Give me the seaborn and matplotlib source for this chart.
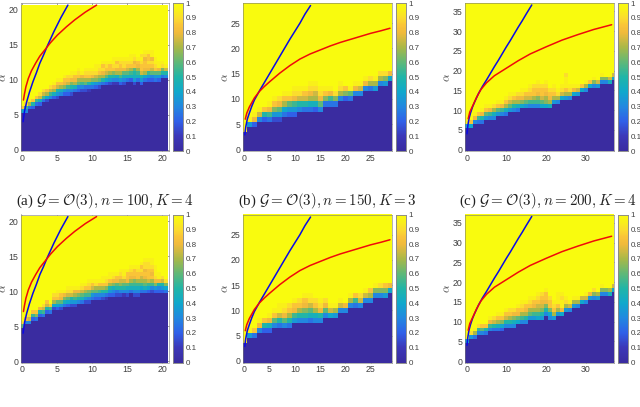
import numpy as np
import matplotlib
matplotlib.use("Agg")
import matplotlib.pyplot as plt
import seaborn as sns
from matplotlib.colors import LinearSegmentedColormap

sns.set_style("white")
plt.rcParams["font.family"] = ["Liberation Sans", "DejaVu Sans"]
plt.rcParams["mathtext.fontset"] = "cm"

# parula-like colours
parula = LinearSegmentedColormap.from_list("parula", [
    (0.00, "#3a2ca0"), (0.10, "#3c38b8"), (0.20, "#3060e8"), (0.30, "#2288e0"),
    (0.40, "#10a8cc"), (0.50, "#20b5a8"), (0.60, "#5fb878"), (0.70, "#a8b848"),
    (0.80, "#f0ba3c"), (0.85, "#fac438"), (0.90, "#fbdc2e"), (0.95, "#f9ef1a"), (1.00, "#f9fb0e")])

# curves, shared by both rows
a_blue_x = [0.1, 0.3, 0.6, 1, 1.5, 2, 2.5, 3, 3.5, 4, 4.5, 5, 5.5, 6, 6.5]
a_blue_y = [4, 5.5, 6.8, 8.2, 9.7, 11, 12.4, 13.5, 14.7, 15.8, 16.9, 17.9, 18.9, 19.8, 20.7]
a_red_x = [0.15, 0.3, 0.5, 0.85, 1.3, 1.9, 2.5, 3.3, 4, 5, 6.3, 7.5, 9, 10.6]
a_red_y = [7.1, 8, 9, 10.2, 11.3, 12.4, 13.4, 14.4, 15.3, 16.4, 17.6, 18.6, 19.7, 20.7]
b_blue_x = [0.1, 0.3, 0.6, 1, 1.5, 2, 3, 4, 5, 6, 7, 8, 9, 10, 11, 12, 13.1]
b_blue_y = [2.9, 4.5, 6, 7.2, 8.6, 9.8, 11.6, 13.3, 15, 16.7, 18.4, 20.1, 21.8, 23.4, 25, 26.8, 28.5]
b_red_x = [0.2, 0.5, 1, 2, 3, 4, 5, 7, 9, 11, 13, 15, 17, 19, 21, 23, 25, 27, 28.8]
b_red_y = [6, 7.2, 8.4, 10.2, 11.5, 12.5, 13.4, 15.1, 16.6, 17.9, 18.9, 19.7, 20.5, 21.2, 21.8, 22.4, 23, 23.5, 24]
c_blue_x = [0.1, 0.3, 0.6, 1, 1.5, 2, 3, 4, 5, 6, 7, 8, 9, 10, 11, 12, 13, 14, 15, 16.4]
c_blue_y = [4, 6, 7.8, 9.3, 10.8, 12, 14.2, 16, 17.6, 19.3, 21, 22.6, 24.3, 26, 27.6, 29.3, 31, 32.6, 34.3, 36.6]
c_red_x = [0.4, 0.8, 1.5, 2.5, 3.6, 5, 7, 10, 13, 16, 20, 24, 28, 32, 36.5]
c_red_y = [7.8, 9.5, 11, 13.2, 15.2, 16.9, 18.7, 20.6, 22.5, 24.2, 26, 27.7, 29.1, 30.4, 31.6]

# dark rows per column, then the cell values above them (1 further up)
a_floor = [11, 11, 12, 12, 13, 13, 14, 14, 15, 15, 15, 16, 16, 16, 16, 17, 17, 17, 17, 17, 18, 18,
           18, 19, 19, 19, 19, 19, 19, 19, 20, 20, 19, 20, 19, 20, 20, 20, 20, 20, 21, 21]
a_band = [[.4, .85], [.3, .55, .9], [.25, .7, .95], [.2, .5, .85], [.25, .55, .85], [.2, .45, .75, .9],
          [.25, .55, .75, .9], [.15, .4, .7, .85], [.3, .55, .75, .9], [.2, .45, .7, .85, .95],
          [.15, .35, .5, .75, .85, .95], [.3, .45, .7, .85, .95], [.2, .35, .65, .8, .85, .95],
          [.2, .3, .55, .75, .85, .9], [.15, .3, .5, .65, .8, .9, .95], [.25, .45, .7, .8, .85, .95],
          [.2, .3, .6, .7, .85, .9, .95], [.15, .3, .55, .7, .8, .95], [.15, .25, .6, .7, .85, .9, .95],
          [.1, .25, .5, .7, .85, .9, .95], [.25, .4, .65, .8, .9, .95], [.2, .35, .65, .75, .9, .95, .95],
          [.15, .3, .6, .7, .85, .9, .95], [.25, .5, .7, .8, .9, .85, .95], [.2, .4, .6, .75, .85, .9, .95],
          [.15, .35, .5, .7, .85, .85, .95], [.1, .3, .5, .65, .85, .9, .95, .95], [.1, .3, .45, .7, .8, .9, .85, .95],
          [.2, .35, .55, .7, .8, .85, .9, .95], [.15, .3, .45, .6, .8, .9, .9, .95], [.25, .45, .6, .75, .85, .9, .95],
          [.2, .45, .55, .7, .85, .9, .95, .95], [.15, .35, .45, .5, .6, .85, .8, .9, .95], [.25, .45, .55, .7, .8, .85, .95],
          [.2, .35, .5, .75, .85, .85, .9, .95, .9], [.25, .4, .7, .8, .85, .85, .8, .9, .95], [.2, .35, .55, .8, .85, .9, .85, .85, .95],
          [.2, .3, .6, .75, .85, .9, .8, .95, .95], [.25, .35, .6, .85, .9, .95, .95], [.2, .35, .6, .8, .95, .95],
          [.25, .5, .65, .9, .95], [.3, .5, .75, .95]]

b_floor = [4, 5, 5, 6, 6, 6, 6, 6, 7, 7, 7, 8, 8, 8, 8, 8, 9, 9, 9, 10, 10, 10, 11, 11, 12, 12, 12, 13, 13, 14]
b_band = [[.95], [.35, .95], [.2, .8, .95], [.3, .75, .95], [.2, .5, .85], [.25, .55, .8, .95],
          [.15, .35, .65, .85, .95], [.15, .35, .6, .8, .9], [.25, .4, .7, .85, .95], [.2, .35, .6, .85, .95],
          [.2, .35, .55, .8, .9, .95], [.3, .5, .75, .9, .95], [.25, .5, .75, .85, .95], [.25, .45, .7, .8, .9, .95],
          [.2, .45, .7, .75, .9, .95], [.3, .6, .8, .9, .95], [.25, .65, .85, .95], [.25, .55, .8, .95],
          [.25, .65, .9], [.3, .7, .9, .95], [.2, .65, .85], [.25, .6, .95], [.3, .8, .95], [.3, .75, .95],
          [.3, .8, .95], [.25, .7, .9], [.35, .7, .95], [.3, .7, .9], [.35, .65, .9], [.4, .8]]

c_floor = [6, 6, 7, 7, 7, 8, 8, 8, 9, 9, 9, 10, 10, 10, 11, 11, 11, 11, 11, 11, 11, 11, 12, 12, 13, 13,
           13, 14, 14, 15, 15, 16, 16, 16, 17, 17, 17, 18]
c_band = [[.35, .95], [.4, .85], [.3, .8, .95], [.25, .55, .85], [.25, .5, .8, .95], [.35, .6, .85, .95],
          [.3, .55, .8, .95], [.3, .45, .7, .9], [.35, .6, .85, .95], [.3, .55, .8, .95], [.25, .45, .7, .85, .95],
          [.35, .6, .75, .9, .95], [.3, .5, .7, .85, .95], [.25, .45, .7, .8, .9], [.4, .65, .8, .9, .95],
          [.35, .6, .75, .85, .95], [.3, .55, .75, .85, .9, .95], [.3, .55, .7, .85, .85, .9], [.3, .55, .65, .8, .85, .9, .95],
          [.4, .6, .75, .85, .85, .9], [.4, .65, .7, .8, .85, .9, .95], [.45, .7, .8, .85, .9], [.35, .7, .85, .9, .95],
          [.3, .7, .9, .95], [.4, .75, .9, .95], [.35, .7, .85, .95, .95, .95, .9], [.3, .7, .9, .95], [.4, .8, .95],
          [.35, .75, .95], [.4, .85], [.3, .7, .95], [.4, .85], [.3, .65, .95], [.35, .75], [.3, .65, .95], [.3, .65],
          [.45, .75], [.4, .75]]

d_floor = [10, 11, 11, 12, 12, 13, 13, 14, 14, 15, 15, 15, 16, 16, 16, 16, 17, 17, 17, 17, 18, 18,
           18, 18, 18, 19, 19, 19, 19, 19, 19, 20, 19, 19, 20, 20, 20, 20, 20, 20, 20, 20]
d_band = [[.6, .9], [.3, .8], [.3, .75, .9], [.2, .55, .85], [.25, .65, .85], [.2, .5, .8], [.25, .55, .75, .9],
          [.2, .5, .75, .85], [.25, .55, .85], [.15, .4, .7, .85, .9], [.2, .4, .6, .85, .9, .95],
          [.15, .35, .6, .8, .85, .95], [.25, .45, .65, .8, .95], [.2, .4, .6, .75, .9, .95],
          [.15, .35, .5, .75, .9, .95], [.15, .35, .55, .7, .8, .95], [.3, .5, .65, .8, .95],
          [.25, .45, .6, .75, .9, .95], [.15, .35, .55, .7, .85, .95], [.15, .3, .55, .65, .85, .9, .95],
          [.25, .35, .6, .75, .85, .95], [.2, .3, .6, .7, .9, .95], [.2, .3, .55, .7, .85, .95],
          [.15, .3, .5, .7, .85, .95, .95], [.1, .25, .5, .65, .85, .9, .95], [.2, .35, .5, .7, .85, .95, .95],
          [.2, .3, .45, .65, .8, .9, .95], [.15, .25, .5, .6, .8, .85, .95], [.15, .3, .5, .65, .75, .85, .9, .95],
          [.1, .3, .5, .6, .75, .9, .95, .95], [.15, .3, .45, .6, .8, .85, .85, .95], [.25, .45, .55, .7, .8, .85, .9, .95],
          [.15, .3, .45, .55, .65, .8, .85, .85, .95], [.15, .3, .45, .55, .7, .85, .85, .9, .95],
          [.25, .4, .55, .7, .75, .85, .9, .85, .95], [.25, .45, .6, .7, .8, .85, .8, .9, .9, .95],
          [.2, .4, .55, .75, .85, .85, .85, .9, .9, .95], [.15, .3, .55, .7, .85, .8, .85, .9, .95, .95],
          [.2, .35, .65, .8, .9, .95, .95, .95], [.2, .3, .5, .8, .95, .95], [.2, .35, .5, .75, .9], [.25, .4, .65, .9]]

e_floor = [4, 5, 5, 6, 6, 6, 7, 7, 7, 7, 8, 8, 8, 8, 8, 8, 9, 9, 9, 10, 10, 11, 11, 11, 12, 12, 13, 13, 13, 14]
e_band = [[.95], [.35, .95], [.25, .85], [.3, .8, .95], [.2, .5, .85], [.2, .45, .8, .95], [.3, .6, .85, .95],
          [.25, .5, .75, .95, .95], [.3, .6, .8, .9, .95], [.25, .5, .7, .85, .9], [.35, .55, .8, .85, .95],
          [.3, .5, .7, .85, .9], [.3, .5, .65, .8, .85, .95], [.25, .45, .6, .75, .9, .95], [.3, .45, .7, .85, .9],
          [.3, .5, .8, .9, .95], [.3, .6, .8, .9], [.4, .75, .95], [.35, .7, .95], [.3, .75, .95], [.3, .8], [.3, .7, .95],
          [.25, .55, .85], [.3, .75, .9], [.3, .75, .95], [.3, .7, .85], [.3, .65, .95], [.3, .65, .9], [.35, .65, .85], [.4, .8]]

f_floor = [5, 6, 6, 7, 7, 7, 8, 8, 8, 8, 9, 9, 9, 10, 10, 10, 11, 11, 11, 11, 12, 11, 11, 12, 12, 13, 13,
           14, 14, 15, 15, 16, 16, 16, 17, 17, 17, 18]
f_band = [[.4, .95], [.35, .9], [.25, .7, .95], [.3, .55, .9], [.3, .6, .85], [.25, .5, .85], [.3, .55, .8, .95],
          [.25, .5, .75, .9], [.25, .45, .7, .85, .95], [.2, .4, .65, .85, .95], [.3, .5, .75, .85, .95],
          [.3, .5, .7, .85, .9], [.3, .45, .65, .8, .9], [.4, .6, .8, .85, .95], [.3, .55, .7, .85, .9, .95],
          [.3, .5, .7, .8, .85, .95], [.35, .6, .7, .85, .9, .95], [.35, .55, .7, .8, .85, .95], [.4, .55, .7, .75, .85, .9, .95],
          [.35, .5, .65, .75, .8, .85, .9], [.3, .5, .65, .8, .85, .85, .95], [.3, .4, .65, .85, .85, .9], [.35, .7, .85, .9, .95],
          [.35, .7, .85, .95, .95, .95], [.4, .8, .95, .95, .9, .95], [.35, .7, .9, .95], [.3, .75, .95], [.35, .7, .95],
          [.3, .7, .95], [.4, .75], [.3, .75, .95], [.35, .8], [.3, .65, .9], [.35, .7], [.3, .65, .95], [.3, .65],
          [.45, .7], [.4, .75]]

a_ticks = [0, 5, 10, 15, 20]
b_ticks = [0, 5, 10, 15, 20, 25]
c_ticks = [0, 10, 20, 30]
c_yticks = [0, 5, 10, 15, 20, 25, 30, 35]
cbar_ticks = [0, .1, .2, .3, .4, .5, .6, .7, .8, .9, 1]
cbar_labels = ["0", "0.1", "0.2", "0.3", "0.4", "0.5", "0.6", "0.7", "0.8", "0.9", "1"]

captions = [r"(a) $\mathcal{G}=\mathcal{O}(3), n=100, K=4$",
            r"(b) $\mathcal{G}=\mathcal{O}(3), n=150, K=3$",
            r"(c) $\mathcal{G}=\mathcal{O}(3), n=200, K=4$"]

W, H = 640.0, 407.0
TXT = "#404040"


def box(x0, y0, x1, y1):
    return [x0 / W, 1 - y1 / H, (x1 - x0) / W, (y1 - y0) / H]


def build_grid(floor, band, nrows):
    grid = np.ones((nrows, len(floor)))
    for col, (f, vals) in enumerate(zip(floor, band)):
        grid[:f, col] = 0
        grid[f:f + len(vals), col] = vals
    return grid


def panel(fig, left, right, top, floor, band, step, xlim, ylim, xticks, yticks,
          blue, red, ylabel_x):
    bottom = top + 148
    ax = fig.add_axes(box(left, top, right, bottom))
    cax = fig.add_axes(box(right + 4, top, right + 14, bottom))
    sns.heatmap(build_grid(floor, band, len(floor)), ax=ax, cbar_ax=cax, cmap=parula, vmin=0, vmax=1,
                xticklabels=False, yticklabels=False, linewidths=0, rasterized=True)
    # heatmap cell i is centred on i + 0.5
    cx = lambda v: np.asarray(v) / step + 0.5
    sns.lineplot(x=cx(blue[0]), y=cx(blue[1]), ax=ax, color="#0a0ae6", lw=1.1, sort=False, estimator=None)
    sns.lineplot(x=cx(red[0]), y=cx(red[1]), ax=ax, color="#f00a0a", lw=1.1, sort=False, estimator=None)
    ax.set_xlim(cx(xlim[0]), cx(xlim[1]))
    ax.set_ylim(cx(ylim[0]), cx(ylim[1]))
    ax.set_xticks(cx(xticks))
    ax.set_xticklabels([str(t) for t in xticks])
    ax.set_yticks(cx(yticks))
    ax.set_yticklabels([str(t) for t in yticks], rotation=0)
    ax.tick_params(direction="in", length=2, width=0.4, color="#555555", labelcolor=TXT,
                   labelsize=6.3, top=True, right=True, bottom=True, left=True, pad=2)
    for s in ax.spines.values():
        s.set_visible(True)
        s.set_color("#777777")
        s.set_linewidth(0.4)
    ax.set_xlabel(r"$\beta$", fontsize=8.5, color=TXT, labelpad=4)
    fig.text(ylabel_x / W, 1 - (top + 74) / H, r"$\alpha$", fontsize=8.5, color=TXT,
             rotation=90, ha="center", va="center")
    cax.set_yticks(cbar_ticks)
    cax.set_yticklabels(cbar_labels)
    cax.tick_params(length=0, labelsize=5.8, labelcolor=TXT, pad=2, right=True, left=False)
    for s in cax.spines.values():
        s.set_visible(True)
        s.set_color("#888888")
        s.set_linewidth(0.5)


fig = plt.figure(figsize=(6.4, 4.07), dpi=100)

a_lines = ((a_blue_x, a_blue_y), (a_red_x, a_red_y))
b_lines = ((b_blue_x, b_blue_y), (b_red_x, b_red_y))
c_lines = ((c_blue_x, c_blue_y), (c_red_x, c_red_y))

a_x, a_y = (-0.2, 20.95), (-0.2, 21.0)
b_x, b_y = (-0.25, 29.2), (-0.3, 29.0)
c_x, c_y = (-0.4, 37.1), (-0.35, 37.1)

for top, sets in [(3, ((a_floor, a_band), (b_floor, b_band), (c_floor, c_band))),
                  (214.5, ((d_floor, d_band), (e_floor, e_band), (f_floor, f_band)))]:
    panel(fig, 21, 169, top, sets[0][0], sets[0][1], 0.5, a_x, a_y, a_ticks, a_ticks, *a_lines, 3)
    panel(fig, 243, 392, top, sets[1][0], sets[1][1], 1, b_x, b_y, b_ticks, b_ticks, *b_lines, 225)
    panel(fig, 465, 614, top, sets[2][0], sets[2][1], 1, c_x, c_y, c_ticks, c_yticks, *c_lines, 447)

for cap, x in zip(captions, [105, 327, 548]):
    fig.text(x / W, 1 - 201 / H, cap, fontsize=10.8, color="#222222", ha="center", va="center",
             family=["Liberation Serif", "DejaVu Serif"])

fig.savefig("out.png", dpi=100)
